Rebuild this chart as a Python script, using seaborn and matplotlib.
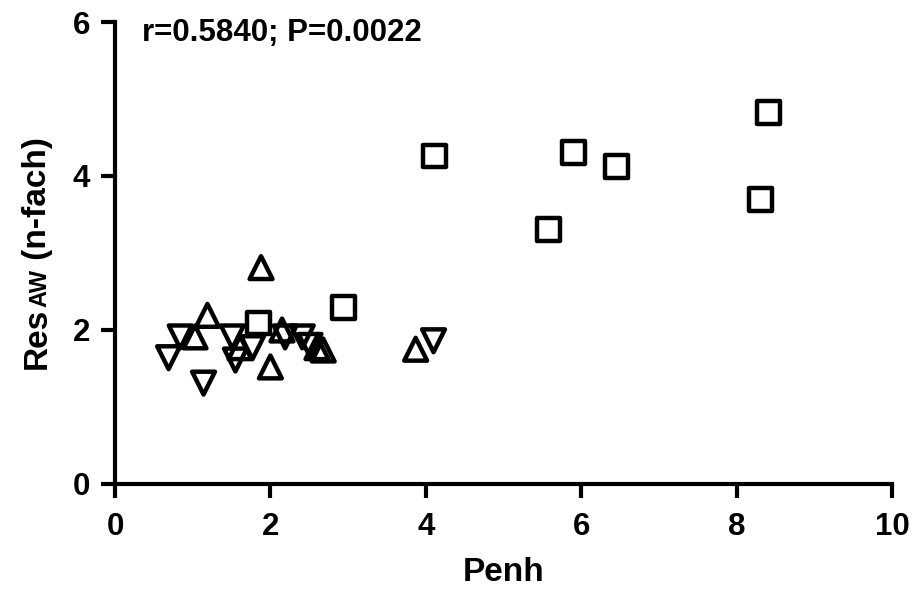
import matplotlib
matplotlib.use("Agg")
import matplotlib.pyplot as plt
import seaborn as sns
import pandas as pd
from matplotlib.transforms import offset_copy

# Data
sq_x = [1.85, 2.94, 4.11, 5.58, 5.90, 6.45, 8.31, 8.41]
sq_y = [2.09, 2.29, 4.26, 3.31, 4.30, 4.12, 3.70, 4.82]
up_x = [1.88, 1.19, 1.03, 1.61, 2.00, 2.15, 2.60, 2.68, 3.87]
up_y = [2.81, 2.19, 1.91, 1.77, 1.52, 2.00, 1.77, 1.74, 1.75]
dn_x = [0.84, 0.69, 1.14, 1.51, 1.77, 1.55, 2.19, 2.41, 2.51, 4.10]
dn_y = [1.91, 1.64, 1.31, 1.91, 1.77, 1.61, 1.91, 1.91, 1.80, 1.86]
x_ticks = [0, 2, 4, 6, 8, 10]
y_ticks = [0, 2, 4, 6]
annotation = "r=0.5840; P=0.0022"

df = pd.concat([
    pd.DataFrame({"Penh": sq_x, "Res": sq_y, "grp": "sq"}),
    pd.DataFrame({"Penh": up_x, "Res": up_y, "grp": "up"}),
    pd.DataFrame({"Penh": dn_x, "Res": dn_y, "grp": "dn"}),
])

sns.set_style("ticks")
plt.rcParams["font.family"] = ["Liberation Sans", "DejaVu Sans"]
plt.rcParams["font.weight"] = "bold"
for k in ["text.color", "axes.labelcolor", "xtick.color", "ytick.color", "axes.edgecolor"]:
    plt.rcParams[k] = "black"

fig = plt.figure(figsize=(9.22, 5.90), dpi=100)
ax = fig.add_axes([0.1247, 0.1797, 0.8427, 0.7830])

markers = {"sq": "s", "up": "^", "dn": "v"}
sns.scatterplot(data=df, x="Penh", y="Res", style="grp", markers=markers,
                color="black", s=270, legend=False, ax=ax, clip_on=False)
for c in ax.collections:
    c.set_facecolor("none")
    c.set_edgecolor("black")
    c.set_linewidth(3.2)

ax.set_xlim(0, 10)
ax.set_ylim(0, 6)
ax.set_xticks(x_ticks)
ax.set_yticks(y_ticks)
ax.tick_params(axis="both", which="major", length=10, width=3, direction="out",
               labelsize=22.5, color="black", labelcolor="black")
ax.tick_params(axis="x", pad=10)
ax.tick_params(axis="y", pad=8)
for lab in ax.get_xticklabels() + ax.get_yticklabels():
    lab.set_fontweight("bold")
for sp in ["top", "right"]:
    ax.spines[sp].set_visible(False)
for sp in ["left", "bottom"]:
    ax.spines[sp].set_linewidth(3.0)
    ax.spines[sp].set_capstyle("projecting")

ax.set_xlabel("Penh", fontsize=24, fontweight="bold", labelpad=11)
ax.set_ylabel("")

ax.text(0.35, 5.86, annotation, fontsize=22.5, fontweight="bold", va="center", ha="left")

# y label: "Res" + small caps "AW" + " (n-fach)"
ylx = 46 / 922
yl0 = 0.375
fig.canvas.draw()
r = fig.canvas.get_renderer()
kw = dict(rotation=90, fontweight="bold", ha="left", va="baseline", rotation_mode="anchor")
t1 = fig.text(ylx, yl0, "Res", fontsize=24, **kw)
h1 = t1.get_window_extent(r).height
t2 = fig.text(ylx, yl0, "AW", fontsize=17, **kw,
              transform=offset_copy(fig.transFigure, fig=fig, x=0, y=h1 * 72 / 100 + 0.5, units="points"))
h2 = t2.get_window_extent(r).height
t3 = fig.text(ylx, yl0, " (n-fach)", fontsize=24, **kw,
              transform=offset_copy(fig.transFigure, fig=fig, x=0, y=(h1 + h2) * 72 / 100 + 0.5, units="points"))

fig.savefig("out.png", dpi=100)
